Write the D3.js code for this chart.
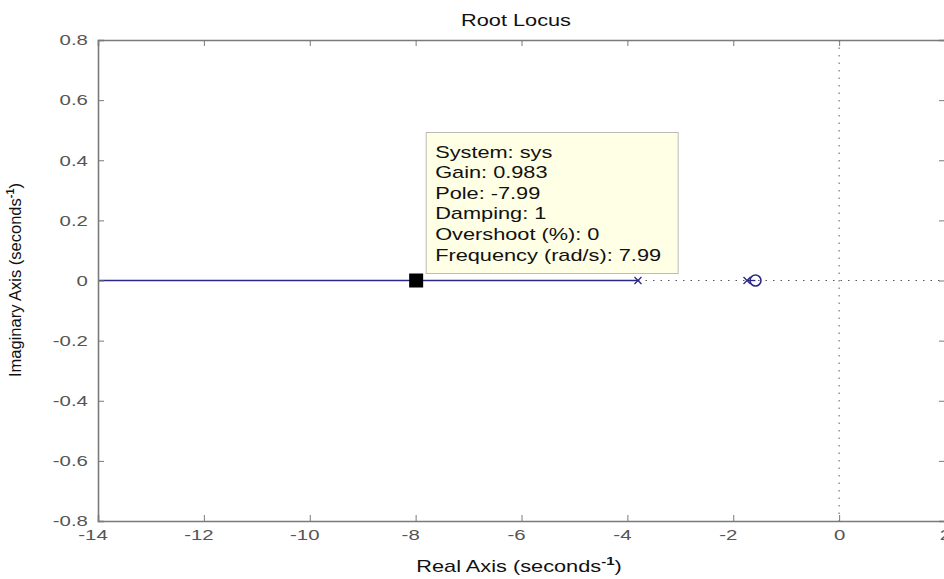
<!DOCTYPE html>
<html>
<head>
<meta charset="utf-8">
<script src="https://cdn.jsdelivr.net/npm/d3@7"></script>
<style>
  body { margin: 0; background: #fff; }
  text { font-family: "Liberation Sans", Arial, sans-serif; }
</style>
</head>
<body>
<script>
const w = 944; // width
const h = 579; // height
const sx = 1.36; // the picture is a bit wider than tall, text gets stretched too

// axis ticks
const xTicks = [-14, -12, -10, -8, -6, -4, -2, 0, 2];
const yTicks = [-0.8, -0.6, -0.4, -0.2, 0, 0.2, 0.4, 0.6, 0.8];

// root locus branches on the real axis (solid)
const branchStart = [-14, -1.74];
const branchEnd = [-3.8, -1.58];

// open loop poles and zeros
const poles = [-3.8, -1.74];
const zeros = [-1.58];

// data tip
const tipPole = -7.99;
const tipLines = [
    "System: sys",
    "Gain: 0.983",
    "Pole: -7.99",
    "Damping: 1",
    "Overshoot (%): 0",
    "Frequency (rad/s): 7.99"
];

let svg = d3.select("body")
    .append("svg")
    .attr('width', w)
    .attr('height', h);

// scales
let x = d3.scaleLinear()
    .domain([-14, 2])
    .range([98, 945]);

let y = d3.scaleLinear()
    .domain([-0.8, 0.8])
    .range([521, 40]);

// dotted axes through the origin
svg.append("line")
    .attr("x1", x(0)).attr("x2", x(0))
    .attr("y1", y(0.8)).attr("y2", y(-0.8))
    .attr("stroke", "#777")
    .attr("stroke-width", 1.2)
    .attr("stroke-dasharray", "1.5,6");

svg.append("line")
    .attr("x1", x(-14)).attr("x2", x(2))
    .attr("y1", y(0)).attr("y2", y(0))
    .attr("stroke", "#556")
    .attr("stroke-width", 1.2)
    .attr("stroke-dasharray", "1.5,6");

// locus branches
svg.selectAll(".branch")
    .data(branchStart)
    .enter()
    .append("line")
    .attr("class", "branch")
    .attr("x1", (d) => x(d))
    .attr("x2", (d, i) => x(branchEnd[i]))
    .attr("y1", y(0)).attr("y2", y(0))
    .attr("stroke", "#2a2a85")
    .attr("stroke-width", 1.3);

// poles (x)
const s = 3.5;
poles.forEach((p) => {
    svg.append("path")
        .attr("d", `M${x(p) - s},${y(0) - s}L${x(p) + s},${y(0) + s}M${x(p) - s},${y(0) + s}L${x(p) + s},${y(0) - s}`)
        .attr("stroke", "#2a2a85")
        .attr("stroke-width", 1.3)
        .attr("fill", "none");
});

// zeros (o)
svg.selectAll(".zero")
    .data(zeros)
    .enter()
    .append("circle")
    .attr("class", "zero")
    .attr("cx", (d) => x(d))
    .attr("cy", y(0))
    .attr("r", 5.5)
    .attr("fill", "none")
    .attr("stroke", "#2a2a85")
    .attr("stroke-width", 1.6);

// axes (ticks inward on all four sides)
const axisColor = "#7a7a7a";
const fmtX = (d) => String(d);
const fmtY = (d) => d === 0 ? "0" : d3.format(".1f")(d).replace("\u2212", "-");

function styleAxis(g) {
    g.select(".domain").attr("stroke", axisColor).attr("stroke-width", 1.6);
    g.selectAll(".tick line").attr("stroke", axisColor);
    g.selectAll(".tick text")
        .attr("fill", "#555")
        .style("font-size", "15px")
        .style("font-family", "'Liberation Sans', Arial, sans-serif")
        .attr("transform", `scale(${sx},1)`);
}

let xAxis = svg.append("g")
    .attr("transform", `translate(0,${y(-0.8)})`)
    .call(d3.axisBottom(x).tickValues(xTicks).tickSize(-6).tickPadding(8).tickFormat(fmtX))
    .call(styleAxis);
xAxis.selectAll(".tick text").attr("dx", (d) => d < 0 ? -4 : 0);

svg.append("g")
    .attr("transform", `translate(0,${y(0.8)})`)
    .call(d3.axisTop(x).tickValues(xTicks).tickSize(-6).tickFormat(""))
    .call(styleAxis);

svg.append("g")
    .attr("transform", `translate(${x(-14)},0)`)
    .call(d3.axisLeft(y).tickValues(yTicks).tickSize(-6).tickPadding(7.4).tickFormat(fmtY))
    .call(styleAxis);

svg.append("g")
    .attr("transform", `translate(${x(2)},0)`)
    .call(d3.axisRight(y).tickValues(yTicks).tickSize(-6).tickFormat(""))
    .call(styleAxis);

// data tip marker
svg.append("rect")
    .attr("x", x(tipPole) - 7)
    .attr("y", y(0) - 7)
    .attr("width", 14)
    .attr("height", 14)
    .attr("fill", "#000");

// data tip box
const bx = x(tipPole) + 10;
const by = y(0) - 148;
svg.append("rect")
    .attr("x", bx)
    .attr("y", by)
    .attr("width", 252)
    .attr("height", 141)
    .attr("fill", "#ffffe6")
    .attr("stroke", "#bbb")
    .attr("stroke-width", 1);

svg.selectAll(".tip")
    .data(tipLines)
    .enter()
    .append("text")
    .attr("class", "tip")
    .attr("transform", (d, i) => `translate(${bx + 9},${by + 25 + i * 20.6}) scale(${sx},1)`)
    .attr("fill", "#111")
    .style("font-size", "16px")
    .text((d) => d);

// title
svg.append("text")
    .attr("text-anchor", "middle")
    .attr("transform", `translate(516,26) scale(${sx},1)`)
    .attr("fill", "#111")
    .style("font-size", "16px")
    .text("Root Locus");

// x axis label
let xl = svg.append("text")
    .attr("text-anchor", "middle")
    .attr("transform", `translate(519,572) scale(${sx},1)`)
    .attr("fill", "#111")
    .style("font-size", "16px");
xl.append("tspan").text("Real Axis (seconds");
xl.append("tspan").attr("dy", -7).style("font-size", "11px").style("font-weight", "bold").text("-1");
xl.append("tspan").attr("dy", 7).text(")");

// y axis label
let yl = svg.append("text")
    .attr("text-anchor", "middle")
    .attr("transform", "translate(21,280) rotate(-90)")
    .attr("fill", "#111")
    .style("font-size", "16.5px");
yl.append("tspan").text("Imaginary Axis (seconds");
yl.append("tspan").attr("dy", -7).style("font-size", "11px").style("font-weight", "bold").text("-1");
yl.append("tspan").attr("dy", 7).text(")");
</script>
</body>
</html>
